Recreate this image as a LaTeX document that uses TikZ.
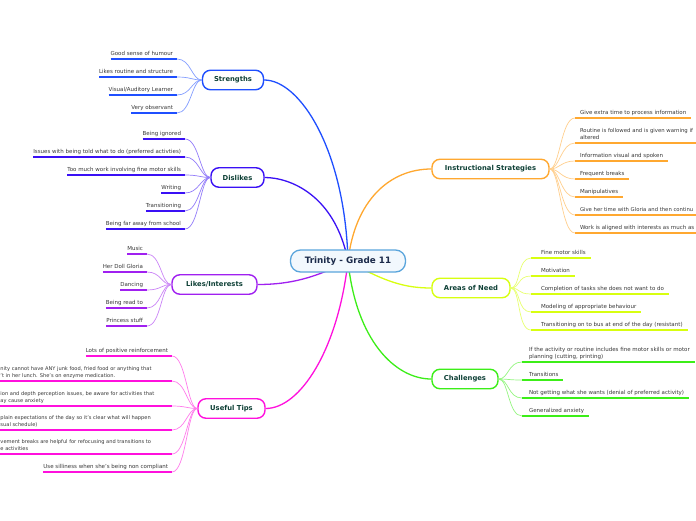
\documentclass[tikz,border=0pt]{standalone}
\usepackage{fontspec}
\setmainfont{DejaVu Sans}
\definecolor{cStr}{HTML}{1F4FFF}
\definecolor{cDis}{HTML}{3A10F5}
\definecolor{cLik}{HTML}{A020F0}
\definecolor{cTip}{HTML}{FF10DD}
\definecolor{cIns}{HTML}{FFA830}
\definecolor{cAre}{HTML}{D8FF10}
\definecolor{cCha}{HTML}{3CEE18}
\definecolor{leafText}{HTML}{383838}
\definecolor{mainText}{HTML}{0E4036}
\definecolor{ctrText}{HTML}{1B2A4A}
\definecolor{ctrLine}{HTML}{5AA5DC}
\definecolor{ctrFill}{HTML}{F2F8FD}
\tikzset{
  x=1pt, y=-1pt,
  main/.style={draw, line width=1.4pt, fill=white, rounded corners=8pt,
    inner xsep=2pt, inner ysep=0pt, minimum height=19.5pt,
    font=\fontsize{6.8}{8}\selectfont\bfseries, text=mainText},
  ctrbox/.style={draw=ctrLine, line width=1.3pt, fill=ctrFill, rounded corners=10pt,
    minimum width=115pt, minimum height=22pt, inner sep=0pt,
    font=\fontsize{8.8}{10}\selectfont\bfseries, text=ctrText},
  leaf/.style={inner xsep=0pt, inner ysep=2.8pt, text depth=1.2pt, outer sep=0pt,
    font=\fontsize{5.5}{6.5}\selectfont, text=leafText, align=left},
  fragleaf/.style={leaf, font=\fontsize{5.1}{6.6}\selectfont},
  trunk/.style={line width=1.3pt},
  strunder/.style={draw=cStr, line width=1.8pt},
  strtwig/.style={draw=cStr!55, line width=0.7pt},
  disunder/.style={draw=cDis, line width=1.8pt},
  distwig/.style={draw=cDis!55, line width=0.7pt},
  likunder/.style={draw=cLik, line width=1.8pt},
  liktwig/.style={draw=cLik!55, line width=0.7pt},
  tipunder/.style={draw=cTip, line width=1.8pt},
  tiptwig/.style={draw=cTip!55, line width=0.7pt},
  insunder/.style={draw=cIns, line width=1.8pt},
  instwig/.style={draw=cIns!55, line width=0.7pt},
  areunder/.style={draw=cAre, line width=1.8pt},
  aretwig/.style={draw=cAre!60, line width=0.7pt},
  chaunder/.style={draw=cCha, line width=1.8pt},
  chatwig/.style={draw=cCha!55, line width=0.7pt},
}
% #1 name #2 main node #3 end x #4 y #5 branch #6 text
\newcommand\leafL[6]{%
  \coordinate (#1e) at (#3,#4);
  \node[leaf, anchor=south east] (#1) at ([xshift=-4pt]#1e) {#6};
  \draw[#5under] (#1.south west) -- (#1e);
  \draw[#5twig] (#2.west) .. controls +(-10,0) and +(14,0) .. (#1e);
}
% #1 name #2 main node #3 start x #4 y #5 branch #6 pad #7 text
\newcommand\leafR[7]{%
  \coordinate (#1s) at (#3,#4);
  \node[leaf, anchor=south west] (#1) at ([xshift=#6]#1s) {#7};
  \draw[#5under] (#1s) -- ([xshift=5pt]#1.south east);
  \draw[#5twig] (#2.east) .. controls +(10,0) and +(-14,0) .. (#1s);
}
% fragment leaf on the left edge: #1 name #2 main #3 end x #4 y #5 text
\newcommand\leafF[5]{%
  \coordinate (#1e) at (#3,#4);
  \node[fragleaf, anchor=south west] (#1) at (0.5,#4) {#5};
  \draw[tipunder] (0,#4) -- (#1e);
  \draw[tiptwig] (#2.west) .. controls +(-10,0) and +(14,0) .. (#1e);
}
\begin{document}
\begin{tikzpicture}
\useasboundingbox[fill=white] (0,0) rectangle (696,520);
\coordinate (ctr) at (348,261);

% main nodes
\node[main, draw=cStr, minimum width=61pt] (str) at (233,80) {Strengths};
\node[main, draw=cDis, minimum width=53pt] (dis) at (237.5,177.5) {Dislikes};
\node[main, draw=cLik, minimum width=85pt] (lik) at (214.5,284.5) {Likes/Interests};
\node[main, draw=cTip, minimum width=67pt] (tip) at (231.5,408.5) {Useful Tips};
\node[main, draw=cIns, minimum width=117pt] (ins) at (490.5,169) {Instructional Strategies};
\node[main, draw=cAre, minimum width=78pt] (are) at (471,288) {Areas of Need};
\node[main, draw=cCha, minimum width=66pt] (cha) at (465,379) {Challenges};

% trunks from the centre
\draw[trunk, cStr] (ctr) .. controls (345,150) and (300,80) .. (str.east);
\draw[trunk, cDis] (ctr) .. controls (335,195) and (290,177.5) .. (dis.east);
\draw[trunk, cLik] (ctr) .. controls (315,278) and (290,284.5) .. (lik.east);
\draw[trunk, cTip] (ctr) .. controls (338,350) and (300,408.5) .. (tip.east);
\draw[trunk, cIns] (ctr) .. controls (355,200) and (390,169) .. (ins.west);
\draw[trunk, cAre] (ctr) .. controls (385,282) and (405,288) .. (are.west);
\draw[trunk, cCha] (ctr) .. controls (356,340) and (395,379) .. (cha.west);

\node[ctrbox] (center) at (ctr) {Trinity - Grade 11};

% Strengths
\leafL{s1}{str}{177}{59}{str}{Good sense of humour}
\leafL{s2}{str}{177}{77}{str}{Likes routine and structure}
\leafL{s3}{str}{177}{95}{str}{Visual/Auditory Learner}
\leafL{s4}{str}{177}{113}{str}{Very observant}

% Dislikes
\leafL{d1}{dis}{185}{139}{dis}{Being ignored}
\leafL{d2}{dis}{185}{157}{dis}{Issues with being told what to do (preferred activties)}
\leafL{d3}{dis}{185}{175}{dis}{Too much work involving fine motor skills}
\leafL{d4}{dis}{185}{193}{dis}{Writing}
\leafL{d5}{dis}{185}{211}{dis}{Transitioning}
\leafL{d6}{dis}{185}{229}{dis}{Being far away from school}

% Likes/Interests
\leafL{l1}{lik}{147}{254}{lik}{Music}
\leafL{l2}{lik}{147}{272}{lik}{Her Doll Gloria}
\leafL{l3}{lik}{147}{290}{lik}{Dancing}
\leafL{l4}{lik}{147}{308}{lik}{Being read to}
\leafL{l5}{lik}{147}{326}{lik}{Princess stuff}

% Useful Tips
\leafL{t1}{tip}{172}{356}{tip}{Lots of positive reinforcement}
\leafF{t2}{tip}{172}{381}{nity cannot have ANY junk food, fried food or anything that\\'t in her lunch. She's on enzyme medication.}
\leafF{t3}{tip}{172}{406}{ion and depth perception issues, be aware for activities that\\ay cause anxiety}
\leafF{t4}{tip}{172}{430}{plain expectations of the day so it's clear what will happen\\sual schedule)}
\leafF{t5}{tip}{172}{454}{vement breaks are helpful for refocusing and transitions to\\e activities}
\leafL{t6}{tip}{172}{472}{tip}{Use silliness when she's being non compliant}

% Instructional Strategies
\leafR{i1}{ins}{575}{118}{ins}{5pt}{Give extra time to process information}
\leafR{i2}{ins}{575}{143}{ins}{5pt}{\fontsize{5.35}{6.5}\selectfont Routine is followed and is given warning if\\altered}
\leafR{i3}{ins}{575}{161}{ins}{5pt}{Information visual and spoken}
\leafR{i4}{ins}{575}{179}{ins}{5pt}{Frequent breaks}
\leafR{i5}{ins}{575}{197}{ins}{5pt}{Manipulatives}
\leafR{i6}{ins}{575}{215}{ins}{5pt}{\fontsize{5.3}{6.5}\selectfont Give her time with Gloria and then continu}
\leafR{i7}{ins}{575}{233}{ins}{5pt}{Work is aligned with interests as much as}

% Areas of Need
\leafR{a1}{are}{531}{258}{are}{10pt}{Fine motor skills}
\leafR{a2}{are}{531}{276}{are}{10pt}{Motivation}
\leafR{a3}{are}{531}{294}{are}{10pt}{Completion of tasks she does not want to do}
\leafR{a4}{are}{531}{312}{are}{10pt}{Modeling of appropriate behaviour}
\leafR{a5}{are}{531}{330}{are}{10pt}{Transitioning on to bus at end of the day (resistant)}

% Challenges
\leafR{c1}{cha}{522}{362}{cha}{7pt}{If the activity or routine includes fine motor skills or motor\\planning (cutting, printing)}
\leafR{c2}{cha}{522}{380}{cha}{7pt}{Transitions}
\leafR{c3}{cha}{522}{398}{cha}{7pt}{Not getting what she wants (denial of preferred activity)}
\leafR{c4}{cha}{522}{416}{cha}{7pt}{Generalized anxiety}
\end{tikzpicture}
\end{document}
